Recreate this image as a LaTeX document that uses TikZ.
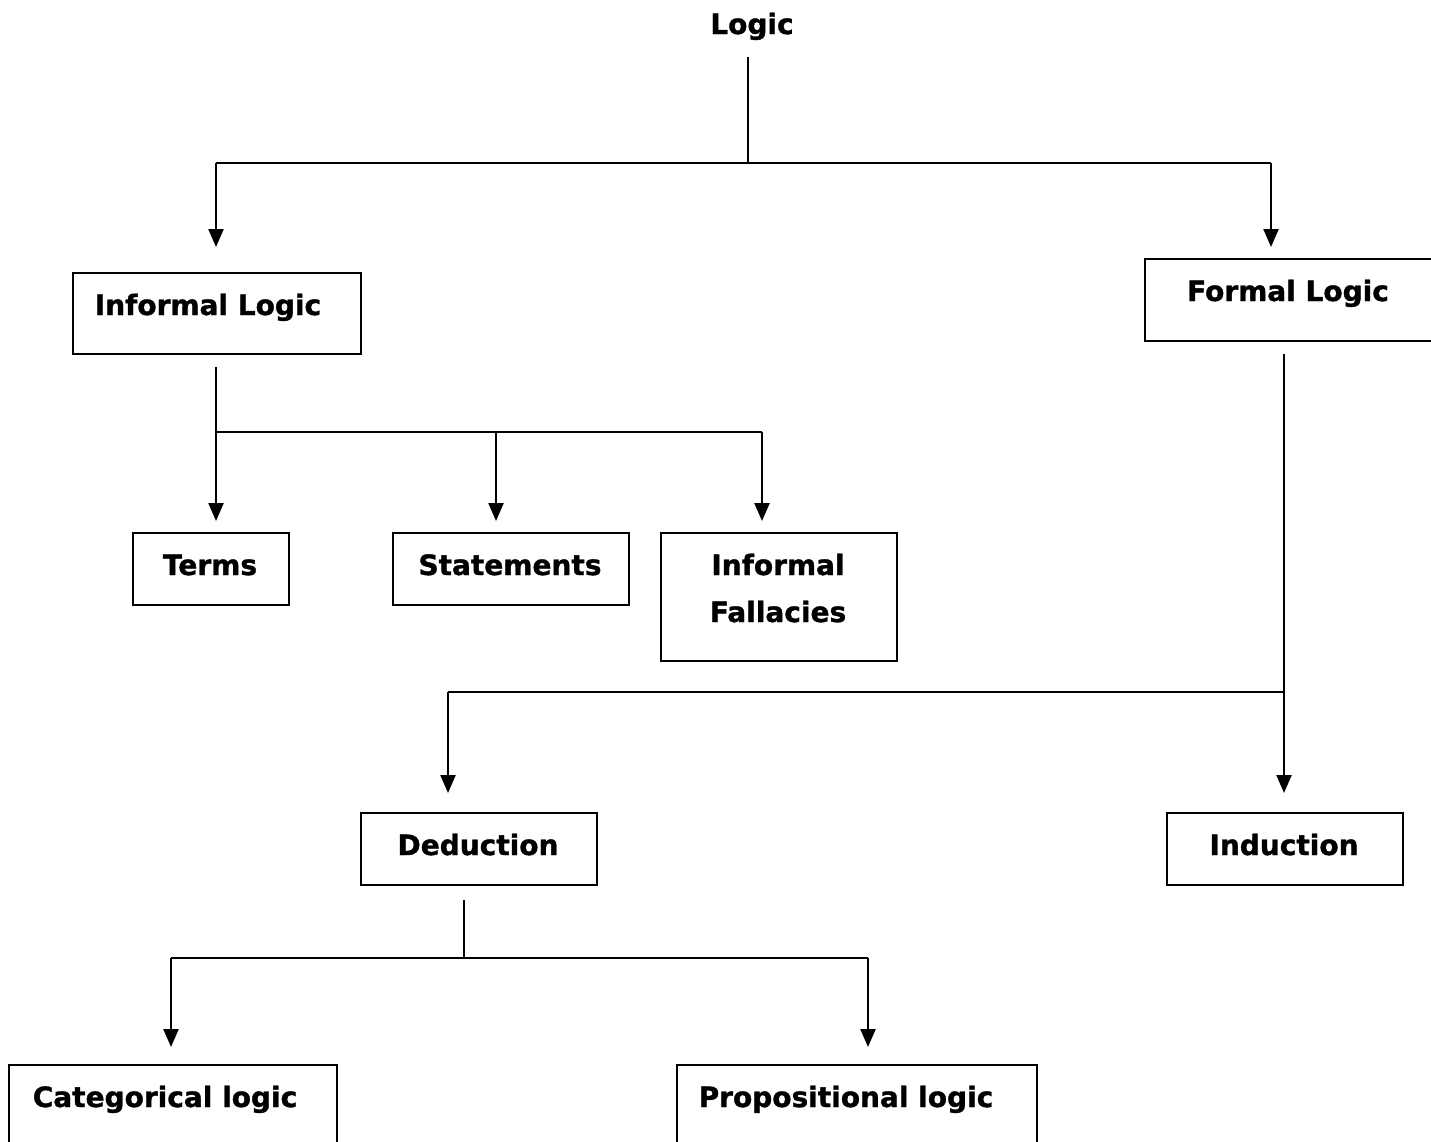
\documentclass[tikz,border=0pt]{standalone}
\usepackage{fontspec}
\setmainfont{DejaVu Sans}
\newfontfamily\heavyfont{DejaVu Sans Bold}[FakeBold=1.2]
\usetikzlibrary{arrows.meta}
\begin{document}
\begin{tikzpicture}[x=1pt,y=-1pt,
  line width=2.3pt,
  box/.style={draw, line width=2.3pt, inner sep=0pt, anchor=north west},
  lbl/.style={font=\fontsize{28}{34}\heavyfont, inner sep=0pt, anchor=base},
  arr/.style={-{Triangle[width=15pt,length=18pt]}},
  ]
\useasboundingbox (0,0) rectangle (1431,1141);
\clip (0,0) rectangle (1431,1141);

% boxes
\node[box, minimum width=288pt, minimum height=81pt] (inf) at (72,272) {};
\node[box, minimum width=300pt, minimum height=82pt] (for) at (1144,258) {};
\node[box, minimum width=156pt, minimum height=72pt] (ter) at (132,532) {};
\node[box, minimum width=236pt, minimum height=72pt] (sta) at (392,532) {};
\node[box, minimum width=236pt, minimum height=128pt] (fal) at (660,532) {};
\node[box, minimum width=236pt, minimum height=72pt] (ded) at (360,812) {};
\node[box, minimum width=236pt, minimum height=72pt] (ind) at (1166,812) {};
\node[box, minimum width=328pt, minimum height=120pt] (cat) at (8,1064) {};
\node[box, minimum width=360pt, minimum height=120pt] (pro) at (676,1064) {};

% labels
\node[lbl] (logic) at (752,34) {Logic};
\node[lbl] (inf-t) at (208,315) {Informal Logic};
\node[lbl] (for-t) at (1288,301) {Formal Logic};
\node[lbl] (ter-t) at (210,575) {Terms};
\node[lbl] (sta-t) at (510,575) {Statements};
\node[lbl] (fal-t1) at (778,575) {Informal};
\node[lbl] (fal-t2) at (778,622) {Fallacies};
\node[lbl] (ded-t) at (478,855) {Deduction};
\node[lbl] (ind-t) at (1284,855) {Induction};
\node[lbl] (cat-t) at (165,1107) {Categorical logic};
\node[lbl] (pro-t) at (846,1107) {Propositional logic};

% junction points
\coordinate (j0) at (748,163);
\coordinate (j0l) at (216,163);
\coordinate (j0r) at (1271,163);
\coordinate (j1) at (216,432);
\coordinate (j1m) at (496,432);
\coordinate (j1r) at (762,432);
\coordinate (j2) at (1284,692);
\coordinate (j2l) at (448,692);
\coordinate (j3) at (464,958);
\coordinate (j3l) at (171,958);
\coordinate (j3r) at (868,958);

% Logic -> Informal / Formal
\draw (748,57) -- (j0);
\draw (j0l) -- (j0r);
\draw[arr] (j0l) -- (216,247);
\draw[arr] (j0r) -- (1271,247);

% Informal Logic -> Terms / Statements / Fallacies
\draw (inf.south -| j1) ++(0,12) -- (j1);
\draw (j1) -- (j1r);
\draw[arr] (j1) -- (216,521);
\draw[arr] (j1m) -- (496,521);
\draw[arr] (j1r) -- (762,521);

% Formal Logic -> Deduction / Induction
\draw (1284,354) -- (j2);
\draw (j2l) -- (j2);
\draw[arr] (j2l) -- (448,793);
\draw[arr] (j2) -- (1284,793);

% Deduction -> Categorical / Propositional
\draw (464,900) -- (j3);
\draw (j3l) -- (j3r);
\draw[arr] (j3l) -- (171,1047);
\draw[arr] (j3r) -- (868,1047);
\end{tikzpicture}
\end{document}
